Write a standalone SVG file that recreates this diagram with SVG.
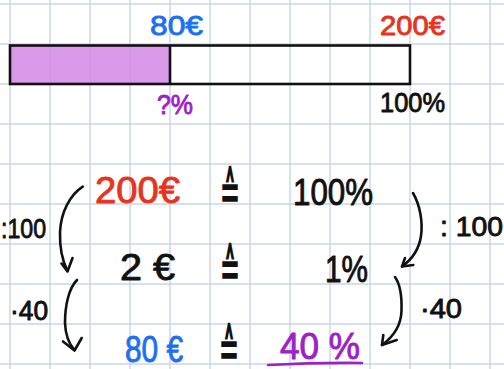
<svg xmlns="http://www.w3.org/2000/svg" width="504" height="369" viewBox="0 0 504 369">
<style>
.grid line{stroke:#c8d4e7;stroke-width:1.4}
text{font-family:"Liberation Sans","DejaVu Sans",sans-serif;stroke-width:0.9;stroke-linejoin:round}
.s{font-size:28px}
.l{font-size:36px}
.red{fill:#e8331f;stroke:#e8331f}
.blue{fill:#1d70ef;stroke:#1d70ef}
.pur{fill:#9c22c6;stroke:#9c22c6}
.blk{fill:#111;stroke:#111}
.eq{font-family:"DejaVu Sans",sans-serif;font-size:38px;font-weight:bold;fill:#111;text-anchor:middle}
.arr path{fill:none;stroke:#111;stroke-width:2.6;stroke-linecap:round;stroke-linejoin:round}
</style>
<rect width="504" height="369" fill="#fff"/>
<g class="grid">
<line x1="10" y1="0" x2="10" y2="369"/><line x1="50" y1="0" x2="50" y2="369"/><line x1="90" y1="0" x2="90" y2="369"/><line x1="130" y1="0" x2="130" y2="369"/><line x1="170" y1="0" x2="170" y2="369"/><line x1="210" y1="0" x2="210" y2="369"/><line x1="250" y1="0" x2="250" y2="369"/><line x1="290" y1="0" x2="290" y2="369"/><line x1="330" y1="0" x2="330" y2="369"/><line x1="370" y1="0" x2="370" y2="369"/><line x1="410" y1="0" x2="410" y2="369"/><line x1="450" y1="0" x2="450" y2="369"/><line x1="490" y1="0" x2="490" y2="369"/>
<line x1="0" y1="4" x2="504" y2="4"/><line x1="0" y1="44" x2="504" y2="44"/><line x1="0" y1="84" x2="504" y2="84"/><line x1="0" y1="124" x2="504" y2="124"/><line x1="0" y1="164" x2="504" y2="164"/><line x1="0" y1="204" x2="504" y2="204"/><line x1="0" y1="244" x2="504" y2="244"/><line x1="0" y1="284" x2="504" y2="284"/><line x1="0" y1="324" x2="504" y2="324"/><line x1="0" y1="364" x2="504" y2="364"/>
</g>
<g id="bar">
<rect x="10" y="45.5" width="160" height="38.5" fill="#d68fe6" fill-opacity="0.92"/>
<rect x="10" y="45.5" width="400" height="38.5" fill="none" stroke="#111" stroke-width="2.6"/>
<line x1="170" y1="45.5" x2="170" y2="84" stroke="#111" stroke-width="2.6"/>
</g>
<g id="top-labels">
<text class="s blue" x="150" y="35" textLength="53" lengthAdjust="spacingAndGlyphs">80€</text>
<text class="s red" x="380" y="35" textLength="65" lengthAdjust="spacingAndGlyphs">200€</text>
<text class="s pur" x="157" y="114" textLength="36" lengthAdjust="spacingAndGlyphs">?%</text>
<text class="s blk" x="380" y="112" textLength="65" lengthAdjust="spacingAndGlyphs">100%</text>
</g>
<g id="row1">
<text class="l red" x="95" y="203" textLength="85" lengthAdjust="spacingAndGlyphs">200€</text>
<text class="eq" transform="translate(230 209) scale(0.65 1.35)">≙</text>
<text class="l blk" x="293" y="205" textLength="80" lengthAdjust="spacingAndGlyphs">100%</text>
</g>
<g id="row2">
<text class="l blk" x="120" y="280" textLength="55" lengthAdjust="spacingAndGlyphs">2 €</text>
<text class="eq" transform="translate(230 286) scale(0.65 1.35)">≙</text>
<text class="l blk" x="325" y="282" textLength="43" lengthAdjust="spacingAndGlyphs">1%</text>
</g>
<g id="row3">
<text class="l blue" x="125" y="362" textLength="58" lengthAdjust="spacingAndGlyphs">80 €</text>
<text class="eq" transform="translate(229 366) scale(0.65 1.35)">≙</text>
<text class="l pur" x="280" y="359" textLength="80" lengthAdjust="spacingAndGlyphs">40 %</text>
<path d="M268 365 Q315 362.5 362 363" fill="none" stroke="#9c22c6" stroke-width="2.6" stroke-linecap="round"/>
</g>
<g id="ops">
<text class="s blk" x="1" y="238" textLength="45" lengthAdjust="spacingAndGlyphs">:100</text>
<text class="s blk" x="440" y="236" textLength="63" lengthAdjust="spacingAndGlyphs">: 100</text>
<text class="s blk" x="10" y="320" textLength="38" lengthAdjust="spacingAndGlyphs">·40</text>
<text class="s blk" x="420" y="318" textLength="42" lengthAdjust="spacingAndGlyphs">·40</text>
</g>
<g class="arr" id="connectors">
<path d="M82.7 186.7 C70 195 61 212 60 232 C59.5 250 63 262 67.5 271"/>
<path d="M61.5 263.5 L67.5 271.5 L72.5 258"/>
<path d="M77 280 C69 288 65 305 65 323 C65.5 336 70 345 74.5 350"/>
<path d="M63 341.5 L74.5 350.5 L81.7 338"/>
<path d="M413 193 C420 205 423 222 421 236 C419 250 411 260 402 266.5"/>
<path d="M405 258 L402 266.5 L413.3 265"/>
<path d="M395 277 C400 284 402 296 401.5 311 C401 326 393 337 382 345"/>
<path d="M383.3 335 L382 345 L396.7 340"/>
</g>
</svg>
